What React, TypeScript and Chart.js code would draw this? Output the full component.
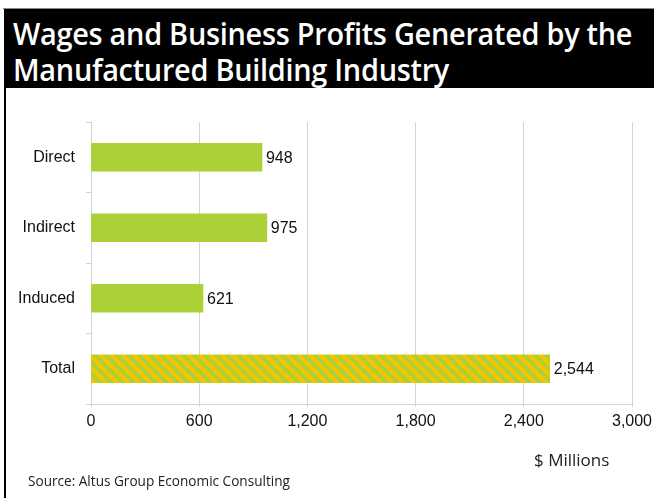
import React, { useEffect, useRef } from "react";
import { Chart, registerables } from "chart.js";

Chart.register(...registerables);

const categories = ["Direct", "Indirect", "Induced", "Total"];
const values = [948, 975, 621, 2544];
const xTicks = [0, 600, 1200, 1800, 2400, 3000];
const titleLines = ["Wages and Business Profits Generated by the", "Manufactured Building Industry"];
const axisUnit = "$ Millions";
const sourceText = "Source: Altus Group Economic Consulting";

const GREEN = "#acd137";
const YELLOW = "#f6c400";

function makeStripePattern(): CanvasPattern | string {
  const size = 11;
  const c = document.createElement("canvas");
  c.width = size;
  c.height = size;
  const g = c.getContext("2d");
  if (!g) return YELLOW;
  g.fillStyle = YELLOW;
  g.fillRect(0, 0, size, size);
  g.strokeStyle = GREEN;
  g.lineWidth = 3.8;
  for (const off of [-size, 0, size]) {
    g.beginPath();
    g.moveTo(off - 2, -2);
    g.lineTo(off + size + 2, size + 2);
    g.stroke();
  }
  const p = g.createPattern(c, "repeat");
  return p || YELLOW;
}

const valueLabels = {
  id: "valueLabels",
  afterDatasetsDraw(chart: any) {
    const ctx = chart.ctx;
    const meta = chart.getDatasetMeta(0);
    ctx.save();
    ctx.font = "16px Arial, 'Liberation Sans', sans-serif";
    ctx.fillStyle = "#111";
    ctx.textAlign = "left";
    ctx.textBaseline = "middle";
    meta.data.forEach((bar: any, i: number) => {
      const v = values[i];
      ctx.fillText(v.toLocaleString("en-US"), bar.x + 4, bar.y + 1);
    });
    ctx.restore();
  },
};

export default function App() {
  const canvasRef = useRef<HTMLCanvasElement | null>(null);

  useEffect(() => {
    if (!canvasRef.current) return;
    const stripes = makeStripePattern();
    const colors = values.map((_, i) => (i === values.length - 1 ? stripes : GREEN));
    const chart = new Chart(canvasRef.current, {
      type: "bar",
      data: {
        labels: categories,
        datasets: [
          {
            data: values,
            backgroundColor: colors as any,
            borderWidth: 0,
            barThickness: 28,
          },
        ],
      },
      plugins: [valueLabels],
      options: {
        indexAxis: "y",
        animation: false,
        responsive: false,
        maintainAspectRatio: false,
        layout: { padding: { top: 27, right: 22, left: 0, bottom: 0 } },
        plugins: {
          legend: { display: false },
          tooltip: { enabled: false },
          title: { display: false },
        },
        scales: {
          x: {
            min: 0,
            max: 3000,
            afterBuildTicks: (scale: any) => {
              scale.ticks = xTicks.map((v) => ({ value: v }));
            },
            ticks: {
              color: "#111",
              font: { family: "Arial, 'Liberation Sans', sans-serif", size: 16 },
              padding: 5,
              callback: (v: any) => Number(v).toLocaleString("en-US"),
              maxRotation: 0,
            },
            grid: {
              color: "#d4d4d4",
              lineWidth: 1,
              drawTicks: true,
              tickLength: 3,
            },
            border: { color: "#d4d4d4", width: 1 },
            afterFit: (scale: any) => {
              scale.height = 94;
              scale.paddingLeft = 0;
              scale.paddingRight = 0;
            },
          },
          y: {
            ticks: {
              color: "#111",
              font: { family: "Arial, 'Liberation Sans', sans-serif", size: 16 },
              padding: 11,
            },
            grid: {
              drawOnChartArea: false,
              drawTicks: true,
              tickLength: 5,
              color: "#d4d4d4",
              offset: true,
            },
            border: { color: "#d4d4d4", width: 1 },
            afterFit: (scale: any) => {
              scale.width = 91;
            },
          },
        },
      },
    });
    return () => chart.destroy();
  }, []);

  return (
    <div
      style={{
        position: "fixed",
        left: 0,
        top: 0,
        width: 654,
        height: 498,
        background: "#fff",
        overflow: "hidden",
      }}
    >
      <div style={{ position: "absolute", left: 3, top: 8, width: 651, height: 1, background: "#888" }} />
      <div style={{ position: "absolute", left: 4, top: 9, width: 2, height: 489, background: "#000" }} />
      <div
        style={{
          position: "absolute",
          left: 4,
          top: 9,
          width: 650,
          height: 79,
          background: "#000",
          overflow: "hidden",
        }}
      >
        <div
          style={{
            position: "absolute",
            left: 9,
            top: 6,
            color: "#fff",
            fontFamily: "'Open Sans', sans-serif",
            fontWeight: 600,
            fontSize: 31,
            lineHeight: "36px",
            letterSpacing: "-0.3px",
            whiteSpace: "nowrap",
            transform: "scaleX(0.932)",
            transformOrigin: "left top",
          }}
        >
          {titleLines.map((t, i) => (
            <div key={i}>{t}</div>
          ))}
        </div>
      </div>
      <div style={{ position: "absolute", left: 0, top: 95, width: 654, height: 403 }}>
        <canvas ref={canvasRef} width={654} height={403} style={{ display: "block" }} />
      </div>
      <div
        style={{
          position: "absolute",
          left: 534,
          top: 448,
          fontFamily: "'Open Sans', sans-serif",
          fontSize: 17,
          color: "#222",
          whiteSpace: "nowrap",
        }}
      >
        {axisUnit}
      </div>
      <div
        style={{
          position: "absolute",
          left: 28,
          top: 471,
          fontFamily: "'Open Sans', sans-serif",
          fontSize: 13.6,
          color: "#222",
          whiteSpace: "nowrap",
        }}
      >
        {sourceText}
      </div>
    </div>
  );
}
